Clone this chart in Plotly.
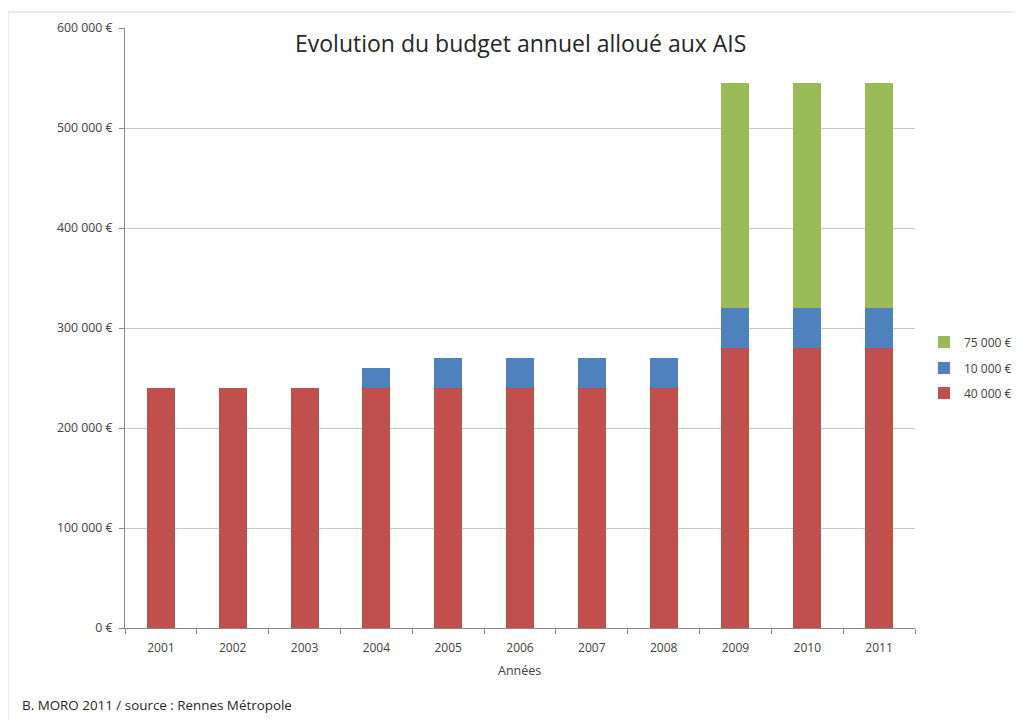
import plotly.graph_objects as go

years = ["2001", "2002", "2003", "2004", "2005", "2006", "2007", "2008", "2009", "2010", "2011"]
series_names = ["40 000 €", "10 000 €", "75 000 €"]
red_vals = [240000, 240000, 240000, 240000, 240000, 240000, 240000, 240000, 280000, 280000, 280000]
blue_vals = [0, 0, 0, 20000, 30000, 30000, 30000, 30000, 40000, 40000, 40000]
green_vals = [0, 0, 0, 0, 0, 0, 0, 0, 225000, 225000, 225000]
y_tickvals = [0, 100000, 200000, 300000, 400000, 500000, 600000]
y_ticktext = ["0 €", "100 000 €", "200 000 €", "300 000 €", "400 000 €", "500 000 €", "600 000 €"]

colors = ["#C0504D", "#4F81BD", "#9BBB59"]
FONT = "Open Sans"

fig = go.Figure()
legends = ["legend3", "legend2", "legend"]
for name, vals, col, lg in zip(series_names, [red_vals, blue_vals, green_vals], colors, legends):
    fig.add_trace(go.Bar(
        x=years, y=vals, name=name, marker=dict(color=col, line=dict(width=0)),
        legend=lg, showlegend=True,
    ))

OFF = 8  # page body margin
W, H = 1023 - 2 * OFF, 727 - 2 * OFF
# plot area in page (reference) pixels
PL, PR, PT, PB = 125, 915, 28, 628
ml, mr, mt, mb = PL - OFF, W - (PR - OFF), PT - OFF, H - (PB - OFF)
pw, ph = PR - PL, PB - PT

def px(xp):
    return (xp - PL) / pw

def py(yp):
    return (PB - yp) / ph

legend_common = dict(
    font=dict(family=FONT, size=12, color="#404040"),
    bgcolor="rgba(0,0,0,0)", itemwidth=30, xanchor="left", yanchor="middle",
)

fig.update_layout(
    width=W, height=H,
    margin=dict(l=ml, r=mr, t=mt, b=mb, autoexpand=False),
    barmode="stack", bargap=0.61,
    paper_bgcolor="white", plot_bgcolor="white",
    font=dict(family=FONT, size=12, color="#404040"),
    showlegend=True,
    legend=dict(x=px(924), y=py(342), **legend_common),
    legend2=dict(x=px(924), y=py(368), **legend_common),
    legend3=dict(x=px(924), y=py(393), **legend_common),
    xaxis=dict(
        type="category", tickson="boundaries", ticks="outside", ticklen=5,
        tickcolor="#868686", showline=True, linecolor="#868686", linewidth=1,
        showgrid=False, tickfont=dict(family=FONT, size=12, color="#404040"),
        ticklabelstandoff=9,
    ),
    yaxis=dict(
        range=[0, 600000], tickvals=y_tickvals, ticktext=y_ticktext,
        ticks="outside", ticklen=5, tickcolor="#868686",
        showline=True, linecolor="#868686", linewidth=1,
        showgrid=True, gridcolor="#c8c8c8", gridwidth=1,
        zeroline=False, tickfont=dict(family=FONT, size=12.3, color="#404040"),
        ticklabelstandoff=4,
    ),
    shapes=[dict(
        type="rect", xref="paper", yref="paper",
        x0=px(8), x1=px(1040), y0=py(740), y1=py(12),
        line=dict(color="#d6d6d6", width=1), fillcolor="rgba(0,0,0,0)", layer="below",
    )],
    annotations=[
        dict(text="Evolution du budget annuel alloué aux AIS", xref="paper", yref="paper",
             x=px(520), y=py(43), xanchor="center", yanchor="middle", showarrow=False,
             font=dict(family=FONT, size=23, color="#262626")),
        dict(text="Années", xref="paper", yref="paper",
             x=px(519), y=py(670), xanchor="center", yanchor="middle", showarrow=False,
             font=dict(family=FONT, size=12.5, color="#404040")),
        dict(text="B. MORO 2011 / source : Rennes Métropole", xref="paper", yref="paper",
             x=px(20), y=py(705), xanchor="left", yanchor="middle", showarrow=False,
             font=dict(family=FONT, size=13.4, color="#262626")),
    ],
)

fig.write_html("out.html")
